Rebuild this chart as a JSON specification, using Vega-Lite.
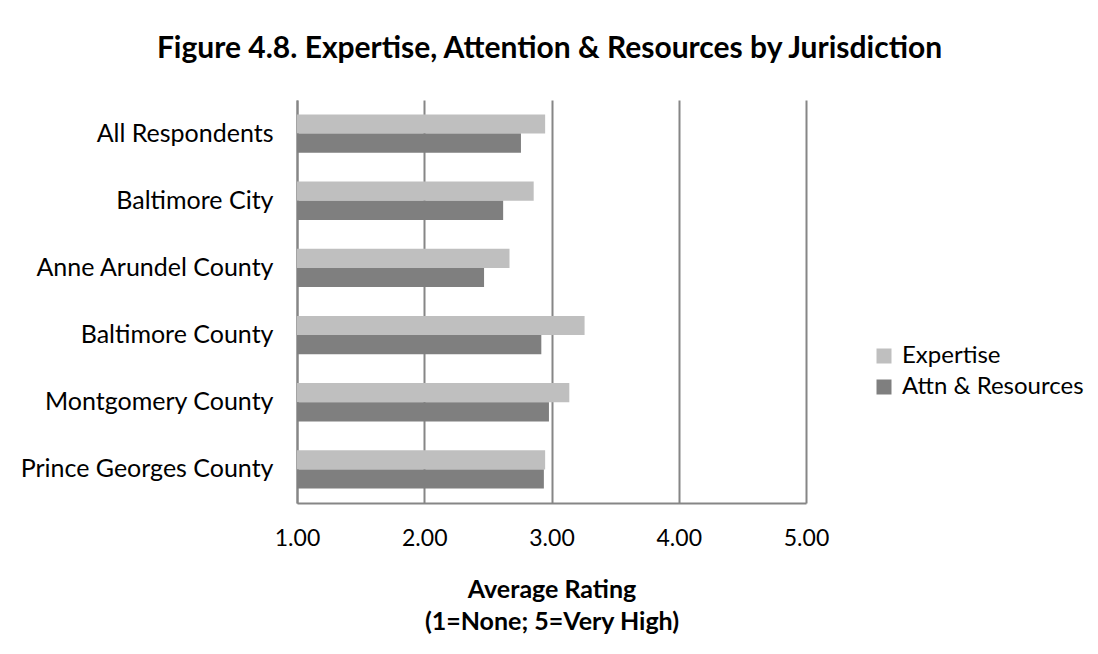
{
  "$schema": "https://vega.github.io/schema/vega-lite/v6.json",
  "autosize": {"type": "none"},
  "width": 509,
  "height": 403,
  "padding": {"left": 297, "top": 100, "right": 292, "bottom": 151},
  "background": "white",
  "title": {
    "text": "Figure 4.8. Expertise, Attention & Resources by Jurisdiction",
    "font": "Lato",
    "fontSize": 30,
    "fontWeight": "bold",
    "color": "#000000",
    "anchor": "middle",
    "dx": -2,
    "offset": 36,
    "limit": 1000
  },
  "data": {
    "values": [
      {"jurisdiction": "All Respondents", "series": "Expertise", "rating": 2.95},
      {"jurisdiction": "All Respondents", "series": "Attn & Resources", "rating": 2.76},
      {"jurisdiction": "Baltimore City", "series": "Expertise", "rating": 2.86},
      {"jurisdiction": "Baltimore City", "series": "Attn & Resources", "rating": 2.62},
      {"jurisdiction": "Anne Arundel County", "series": "Expertise", "rating": 2.67},
      {"jurisdiction": "Anne Arundel County", "series": "Attn & Resources", "rating": 2.47},
      {"jurisdiction": "Baltimore County", "series": "Expertise", "rating": 3.26},
      {"jurisdiction": "Baltimore County", "series": "Attn & Resources", "rating": 2.92},
      {"jurisdiction": "Montgomery County", "series": "Expertise", "rating": 3.14},
      {"jurisdiction": "Montgomery County", "series": "Attn & Resources", "rating": 2.98},
      {"jurisdiction": "Prince Georges County", "series": "Expertise", "rating": 2.95},
      {"jurisdiction": "Prince Georges County", "series": "Attn & Resources", "rating": 2.94}
    ]
  },
  "mark": {"type": "bar"},
  "encoding": {
    "y": {
      "field": "jurisdiction",
      "type": "nominal",
      "sort": ["All Respondents", "Baltimore City", "Anne Arundel County", "Baltimore County", "Montgomery County", "Prince Georges County"],
      "scale": {"paddingInner": 0.43, "paddingOuter": 0.215},
      "axis": {
        "title": null,
        "ticks": false,
        "domain": true,
        "domainColor": "#868686",
        "domainWidth": 2,
        "labelFont": "Lato",
        "labelFontSize": 25,
        "labelColor": "#000000",
        "labelPadding": 24,
        "labelLimit": 0
      }
    },
    "yOffset": {
      "field": "series",
      "type": "nominal",
      "sort": ["Expertise", "Attn & Resources"],
      "scale": {"paddingInner": 0, "paddingOuter": 0}
    },
    "x": {
      "field": "rating",
      "type": "quantitative",
      "scale": {"domain": [1, 5], "nice": false, "zero": false},
      "axis": {
        "values": [1, 2, 3, 4, 5],
        "format": ".2f",
        "labelFlush": false,
        "grid": true,
        "gridColor": "#868686",
        "gridWidth": 2,
        "ticks": false,
        "domain": true,
        "domainColor": "#868686",
        "domainWidth": 2,
        "labelFont": "Lato",
        "labelFontSize": 23,
        "labelColor": "#000000",
        "labelPadding": 24,
        "title": ["Average Rating", "(1=None; 5=Very High)"],
        "titleFont": "Lato",
        "titleFontSize": 25,
        "titleFontWeight": "bold",
        "titleColor": "#000000",
        "titlePadding": 27,
        "titleLineHeight": 32,
        "titleLimit": 0
      }
    },
    "x2": {"datum": 1},
    "color": {
      "field": "series",
      "type": "nominal",
      "sort": ["Expertise", "Attn & Resources"],
      "scale": {"domain": ["Expertise", "Attn & Resources"], "range": ["#BFBFBF", "#7F7F7F"]},
      "legend": {
        "title": null,
        "orient": "none",
        "legendX": 575,
        "legendY": 244,
        "symbolType": "square",
        "symbolSize": 225,
        "symbolStrokeWidth": 0,
        "labelFont": "Lato",
        "labelFontSize": 24,
        "labelColor": "#000000",
        "labelLimit": 0,
        "rowPadding": 7,
        "labelOffset": 6
      }
    }
  },
  "config": {"view": {"stroke": null}}
}
